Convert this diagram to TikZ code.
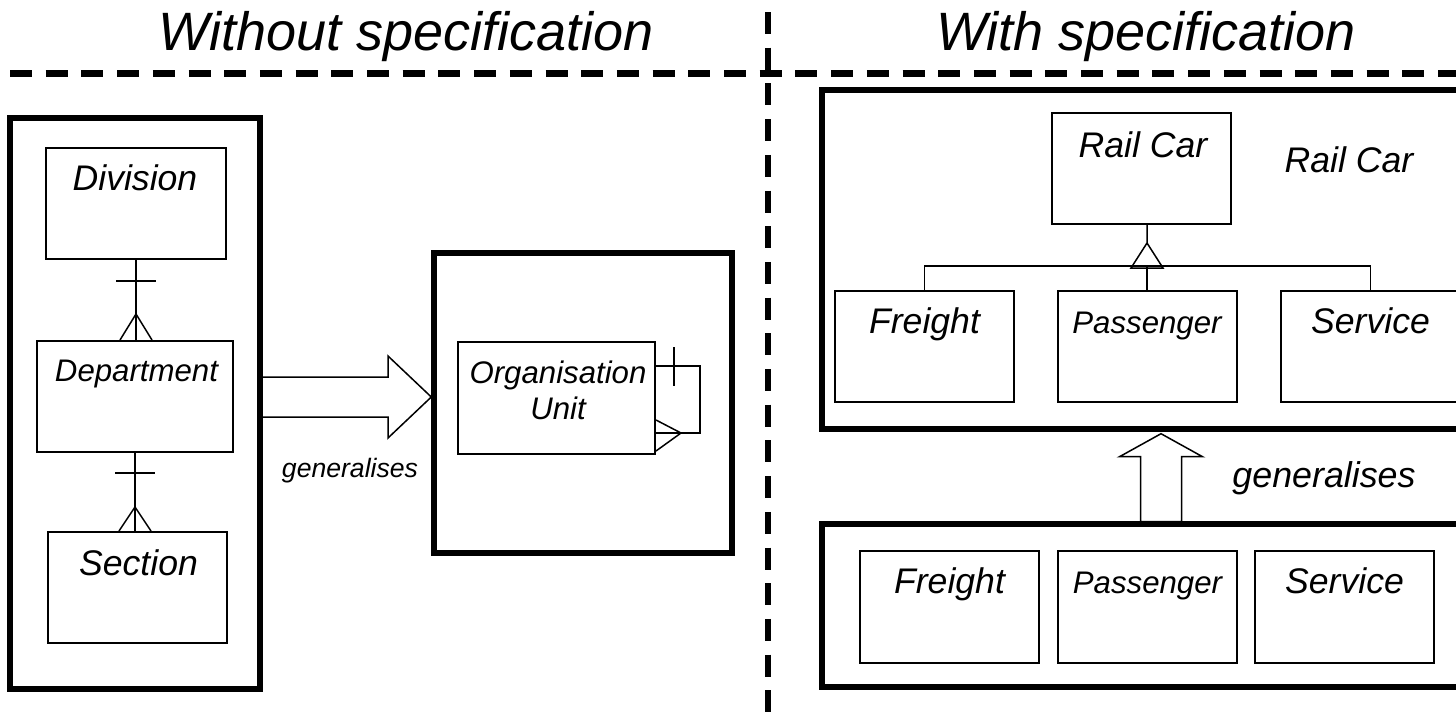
\documentclass[tikz,border=0pt]{standalone}
\usepackage{fontspec}
\setmainfont{Liberation Sans}
\usetikzlibrary{calc}

\begin{document}
\begin{tikzpicture}[x=0.5pt,y=-0.5pt,
        frame/.style={draw,line width=2.7pt,inner sep=0pt},
        entity/.style={draw,line width=1pt,inner sep=0pt,minimum width=89.5pt,minimum height=55.5pt},
        rel/.style={line width=0.75pt},
        divider/.style={line width=3.3pt,dash pattern=on 11pt off 6.85pt},
        txt/.style={font=\fontsize{#1}{18}\selectfont\itshape,inner sep=0pt}]
    \useasboundingbox (0,0) rectangle (1456,723);
    \clip (0,0) rectangle (1456,723);

    \node[txt=27,anchor=base] (nospec) at (406,50) {Without specification};
    \node[txt=27,anchor=base] (spec) at (1146,50) {With specification};
    \draw[divider,dash phase=12.85pt] (0,73.5) -- (1456,73.5);
    \draw[divider,dash phase=11.85pt] (768,0) -- (768,723);

    \node[frame,minimum width=125pt,minimum height=285.5pt] (left) at (135,403.5) {};
    \node[entity,minimum width=90pt] (div) at (136,203.5) {};
    \node[txt=17.8,anchor=base] (divtxt) at (135,190) {Division};
    \node[entity,minimum width=98pt] (dept) at (135,396.5) {};
    \node[txt=15.6,anchor=base] (depttxt) at (136.5,381) {Department};
    \node[entity] (sect) at (137.5,587.5) {};
    \node[txt=17.8,anchor=base] (secttxt) at (138.5,575) {Section};

    \draw[rel] (div.south) -- (div.south |- dept.north);
    \draw[rel] ($(div.south)+(-20,21)$) -- ++(40,0);
    \draw[rel] ($(div.south |- dept.north)+(-16,0)$) -- ++(16,-26) -- ++(16,26);
    \draw[rel] (dept.south) -- (dept.south |- sect.north);
    \draw[rel] ($(dept.south)+(-20,20)$) -- ++(40,0);
    \draw[rel] ($(dept.south |- sect.north)+(-16,0)$) -- ++(16,-24) -- ++(16,24);

    \node[frame,minimum width=149pt,minimum height=150pt] (orgframe) at (583,403) {};
    \node[entity,minimum width=98.5pt,minimum height=56pt] (org) at (556.5,398) {};
    \node[txt=15.6,align=center,anchor=north] (orgtxt) at (558,360) {Organisation\\Unit};
    \draw[rel] (org.east |- 0,366) -| (700,433) -- (org.east |- 0,433);
    \draw[rel] ($(org.east |- 0,366)+(18,-19)$) -- ++(0,39);
    \draw[rel] ($(org.east |- 0,433)+(0,-13)$) -- ++(25,13) -- ++(-25,18);

    \draw[rel] (left.east |- 0,377) -- (388,377) -- (388,356) -- (orgframe.west |- 0,397)
        -- (388,438) -- (388,417) -- (left.east |- 0,417);
    \node[txt=13.3,anchor=base] (genleft) at (350,477) {generalises};

    \node[frame,minimum width=339pt,minimum height=169.5pt] (carframe) at (1161,259.5) {};
    \node[entity] (rail) at (1141.5,168.5) {};
    \node[txt=17.8,anchor=base] (railtxt) at (1143,157) {Rail Car};
    \node[txt=17.8,anchor=base] (railname) at (1349,172) {Rail Car};
    \foreach \n/\x/\t/\s in {frt/924.5/Freight/17.8,pas/1147/Passenger/15.6,srv/1370.5/Service/17.8}{
        \node[entity] (\n) at (\x,346.5) {};
        \node[txt=\s,anchor=base] (\n txt) at (\x,333) {\t};
    }
    \draw[rel] (pas.north |- rail.south) -- ++(0,18) -- ++(-16,25) -- ++(32,0) -- ++(-16,-25);
    \draw[rel] (frt.north) -- ++(0,-24) -| (srv.north);
    \draw[rel] (pas.north) -- ++(0,-24);

    \draw[rel] ($(carframe.south)+(0,2)$) -- ++(-41.5,23) -- ++(21,0) -- ++(0,65) -- ++(41,0)
        -- ++(0,-65) -- ++(21,0) -- cycle;
    \node[txt=17.9,anchor=base] (genright) at (1324,487) {generalises};

    \node[frame,minimum width=339pt,minimum height=81.5pt] (subframe) at (1161,605.5) {};
    \foreach \n/\x/\t/\s in {frt2/949.5/Freight/17.8,pas2/1147.5/Passenger/15.6,srv2/1344.5/Service/17.8}{
        \node[entity,minimum height=56pt] (\n) at (\x,607) {};
        \node[txt=\s,anchor=base] (\n txt) at (\x,593) {\t};
    }
\end{tikzpicture}
\end{document}
